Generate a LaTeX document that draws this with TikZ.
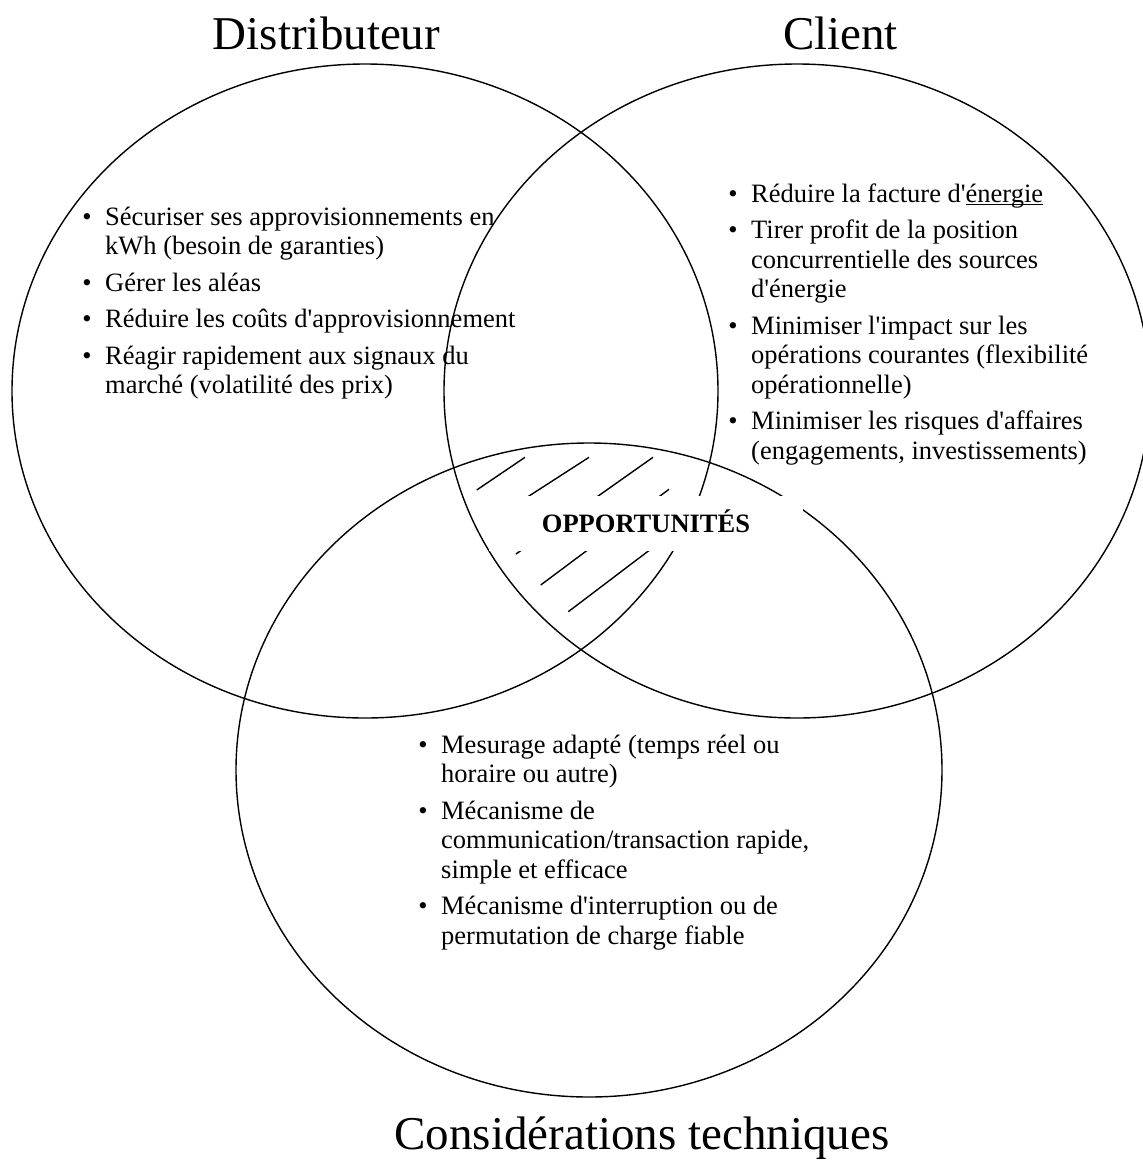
\documentclass[tikz,border=0pt]{standalone}
\usepackage{fontspec}
\setmainfont{Liberation Serif}[Ligatures=TeXOff]
\usetikzlibrary{shapes.geometric}

% bullet hanging in the left margin of an item
\newcommand\bulletitem{\leavevmode\llap{\textbullet\hskip 13.5pt}}
% underline set close to the baseline
\newcommand\underrule[1]{\setbox0\hbox{#1}\rlap{\rule[-2.6pt]{\wd0}{1.1pt}}\box0}
% a list of items, aligned on the baseline of its first line
\newcommand\itemlist[2]{\parbox[t]{#1}{\raggedright\parindent=0pt\parskip=7pt
  \fontsize{26.5}{29.5}\selectfont #2}}

\begin{document}
\begin{tikzpicture}[x=1pt,y=-1pt,
  setring/.style={ellipse,draw,line width=1.4pt,minimum width=706pt,
    minimum height=654pt,inner sep=0pt},
  hatchline/.style={line width=1.4pt},
  title/.style={anchor=base,inner sep=0pt,font=\fontsize{47}{50}\selectfont},
  listnode/.style={anchor=base west,inner sep=0pt}]

\fill[white] (0,0) rectangle (1143,1163);
\clip (0,0) rectangle (1143,1163);

% the three sets
\node[setring] (dist) at (365,391) {};
\node[setring] (cli)  at (797,391) {};
\node[setring] (tech) at (589,770) {};

% hatching of the common zone
\coordinate (h1a) at (476.7,490);   \coordinate (h1b) at (525,457.3);
\coordinate (h2a) at (505,511.5);   \coordinate (h2b) at (589,457.3);
\coordinate (h3a) at (516,554);     \coordinate (h3b) at (653,457.3);
\coordinate (h4a) at (540.7,585);   \coordinate (h4b) at (669,489.3);
\coordinate (h5a) at (568.3,611.7); \coordinate (h5b) at (680,527);
\draw[hatchline] (h1a) -- (h1b);
\draw[hatchline] (h2a) -- (h2b);
\draw[hatchline] (h3a) -- (h3b);
\draw[hatchline] (h4a) -- (h4b);
\draw[hatchline] (h5a) -- (h5b);

% label of the common zone
\node[fill=white,inner sep=0pt,minimum width=314pt,text height=36pt,
  text depth=19pt,anchor=base,font=\bfseries\fontsize{26.5}{30}\selectfont]
  (opp) at (646,532) {OPPORTUNITÉS};

% titles
\node[title] (tdist) at (326.5,49) {Distributeur};
\node[title] (tcli)  at (840.5,49) {Client};
\node[title] (ttech) at (642,1149) {Considérations techniques};

% lists
\node[listnode] (ldist) at (105,225) {\itemlist{520pt}{%
\bulletitem Sécuriser ses approvisionnements en\\kWh (besoin de garanties)\par
\bulletitem Gérer les aléas\par
\bulletitem Réduire les coûts d'approvisionnement\par
\bulletitem Réagir rapidement aux signaux du\\marché (volatilité des prix)}};

\node[listnode] (lcli) at (751,202) {\itemlist{460pt}{%
\bulletitem Réduire la facture d'\underrule{énergie}\par
\bulletitem Tirer profit de la position\\concurrentielle des sources\\d'énergie\par
\bulletitem Minimiser l'impact sur les\\opérations courantes (flexibilité\\opérationnelle)\par
\bulletitem Minimiser les risques d'affaires\\(engagements, investissements)}};

\node[listnode] (ltech) at (441,753) {\itemlist{460pt}{%
\bulletitem Mesurage adapté (temps réel ou\\horaire ou autre)\par
\bulletitem Mécanisme de\\communication/transaction rapide,\\simple et efficace\par
\bulletitem Mécanisme d'interruption ou de\\permutation de charge fiable}};

\end{tikzpicture}
\end{document}
